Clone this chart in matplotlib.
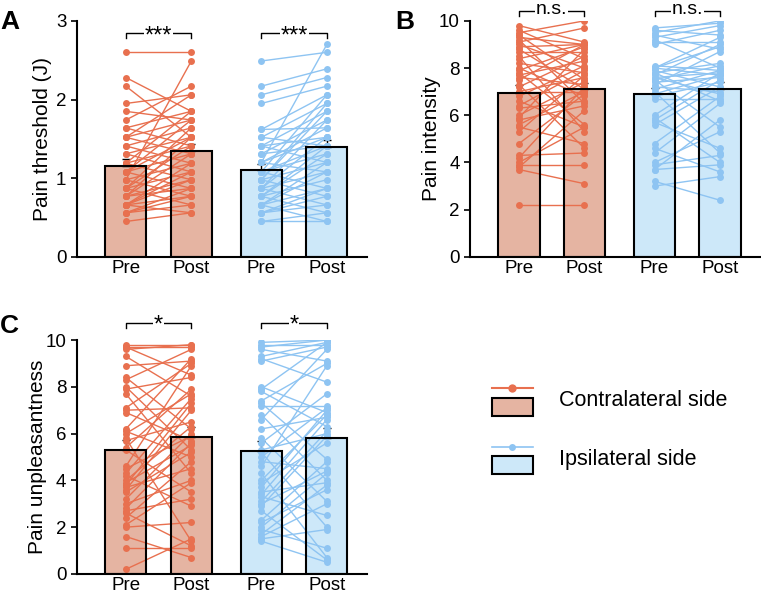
import numpy as np
import matplotlib.pyplot as plt
from matplotlib.patches import Rectangle
from matplotlib.lines import Line2D

plt.rcParams['font.family'] = ['Liberation Sans', 'DejaVu Sans']

# pain threshold (J), one entry per subject, pre/post
thr_con_pre = [2.60, 2.28, 2.17, 1.95, 1.85, 1.74, 1.64, 1.64, 1.52, 1.52, 1.52, 1.41, 1.41, 1.31, 1.31,
               1.19, 1.19, 1.19, 1.08, 1.08, 1.08, 1.08, 0.98, 0.98, 0.98, 0.87, 0.87, 0.87, 0.87, 0.77,
               0.77, 0.77, 0.77, 0.66, 0.66, 0.66, 0.66, 0.66, 0.56, 0.56, 0.56, 0.45]
thr_con_post = [2.60, 1.85, 1.52, 2.06, 1.74, 2.17, 1.85, 1.41, 2.06, 1.31, 1.74, 1.19, 1.64, 1.52, 1.08,
                1.85, 0.98, 1.41, 1.52, 0.87, 1.31, 1.74, 1.19, 2.49, 0.77, 1.64, 1.08, 1.41, 0.66, 1.31,
                0.98, 1.52, 0.87, 1.19, 0.56, 1.08, 0.77, 0.98, 0.87, 0.66, 0.77, 0.56]
thr_ips_pre = [2.49, 2.17, 2.06, 1.95, 1.62, 1.62, 1.52, 1.52, 1.41, 1.41, 1.41, 1.31, 1.31, 1.20, 1.20,
               1.20, 1.20, 1.08, 1.08, 1.08, 1.08, 0.98, 0.98, 0.98, 0.98, 0.87, 0.87, 0.87, 0.87, 0.77,
               0.77, 0.77, 0.77, 0.66, 0.66, 0.66, 0.66, 0.56, 0.56, 0.56, 0.45, 0.45]
thr_ips_post = [2.60, 2.39, 2.28, 2.17, 1.64, 2.06, 1.95, 1.41, 1.85, 1.52, 1.20, 1.74, 1.41, 2.70, 1.64,
                1.08, 1.52, 2.06, 1.31, 0.87, 1.41, 1.95, 1.20, 0.77, 1.85, 1.52, 1.08, 0.66, 1.74, 1.31,
                0.98, 1.41, 0.56, 1.20, 0.87, 1.08, 0.45, 0.87, 0.77, 0.66, 0.56, 0.45]

# pain intensity
int_con_pre = [9.8, 9.6, 9.5, 9.4, 9.3, 9.2, 9.1, 9.0, 8.9, 8.8, 8.7, 8.5, 8.4, 8.2, 8.0, 7.9, 7.8, 7.7,
               7.6, 7.5, 7.3, 7.2, 7.0, 7.0, 6.8, 6.6, 6.4, 6.3, 6.0, 5.9, 5.8, 5.6, 5.5, 5.3, 4.8, 4.3,
               4.2, 4.0, 3.9, 3.8, 3.7, 2.2]
int_con_post = [9.1, 8.4, 10.0, 7.5, 9.0, 6.5, 9.7, 8.0, 9.0, 7.1, 8.7, 5.3, 9.0, 7.8, 6.8, 8.9, 5.6, 8.3,
                7.3, 9.0, 4.6, 8.5, 7.6, 7.0, 8.1, 5.5, 7.9, 6.6, 7.4, 8.8, 6.4, 7.0, 4.8, 7.7, 6.9, 4.4,
                7.2, 5.5, 3.9, 6.2, 3.1, 2.2]
int_ips_pre = [9.7, 9.6, 9.5, 9.4, 9.3, 9.2, 9.1, 9.0, 8.1, 8.0, 8.0, 8.0, 7.9, 7.8, 7.8, 7.7, 7.6, 7.6,
               7.5, 7.5, 7.4, 7.3, 7.2, 7.1, 7.0, 6.9, 6.8, 6.7, 6.0, 5.9, 5.8, 5.7, 5.6, 4.8, 4.6, 4.4,
               4.0, 3.9, 3.7, 3.7, 3.2, 3.0]
int_ips_post = [9.9, 9.4, 10.0, 8.8, 9.8, 8.0, 9.1, 9.6, 7.9, 9.3, 7.7, 8.9, 7.2, 8.2, 6.6, 9.0, 7.8, 6.9,
                8.1, 5.5, 7.6, 8.7, 7.0, 7.9, 4.4, 7.7, 7.4, 6.7, 7.8, 4.0, 7.5, 4.6, 7.2, 6.8, 3.6, 6.5,
                5.3, 4.3, 5.8, 3.9, 2.4, 3.4]

# pain unpleasantness
unp_con_pre = [9.8, 9.7, 9.7, 9.6, 9.3, 8.9, 8.4, 8.3, 8.0, 7.9, 7.7, 7.1, 7.0, 6.9, 6.2, 6.1, 6.0, 5.8,
               5.7, 5.4, 5.3, 4.6, 4.5, 4.3, 4.2, 4.0, 3.9, 3.8, 3.7, 3.6, 3.5, 3.2, 3.0, 2.8, 2.7, 2.6,
               2.4, 2.1, 2.0, 1.6, 1.1, 0.2]
unp_con_post = [9.8, 9.7, 8.5, 9.8, 7.6, 9.1, 6.2, 9.6, 5.3, 8.4, 4.3, 9.0, 7.1, 5.7, 9.2, 5.0, 7.7, 1.4,
                6.5, 7.9, 3.5, 8.9, 5.9, 7.5, 2.9, 6.3, 5.5, 7.3, 4.5, 7.0, 5.2, 6.0, 4.0, 5.6, 3.2, 1.2,
                4.8, 3.9, 2.2, 0.7, 1.1, 1.5]
unp_ips_pre = [9.9, 9.8, 9.7, 9.6, 9.3, 9.2, 9.1, 8.0, 7.9, 7.8, 7.4, 7.3, 7.2, 6.8, 6.6, 6.2, 5.8, 5.6,
               5.3, 5.2, 5.0, 4.8, 4.6, 4.3, 4.0, 3.9, 3.7, 3.5, 3.4, 3.3, 3.1, 3.0, 2.9, 2.7, 2.3, 2.2,
               2.0, 1.9, 1.7, 1.6, 1.5, 1.4]
unp_ips_post = [10.0, 9.8, 10.0, 9.1, 9.9, 8.2, 9.7, 6.9, 9.9, 6.3, 9.0, 4.9, 7.2, 4.0, 9.6, 6.7, 3.1, 7.7,
                6.0, 2.0, 7.1, 4.5, 8.9, 0.7, 6.8, 5.6, 7.0, 3.9, 6.6, 2.5, 6.1, 4.4, 5.9, 0.6, 4.8, 3.6,
                4.3, 1.1, 3.8, 3.0, 1.9, 0.5]

xlabels = ['Pre', 'Post', 'Pre', 'Post']
sig_A = ['***', '***']
sig_B = ['n.s.', 'n.s.']
sig_C = ['*', '*']

con_line, con_fill = '#E8704F', '#E5B4A2'
ips_line, ips_fill = '#8EC4F2', '#CDE8F9'
pos = [1, 2, 3.07, 4.07]


def panel(ax, con_pre, con_post, ips_pre, ips_post, top, ticks, ylabel, lab_x,
          sig, sig_y, tick_h, sig_size, sig_dy):
    groups = [(con_pre, con_post, con_line, con_fill, pos[0:2], sig[0]),
              (ips_pre, ips_post, ips_line, ips_fill, pos[2:4], sig[1])]
    for pre, post, lc, fc, xx, s in groups:
        pre = np.array(pre)
        post = np.array(post)
        means = [pre.mean(), post.mean()]
        sems = [pre.std(ddof=1) / np.sqrt(len(pre)), post.std(ddof=1) / np.sqrt(len(post))]
        ax.bar(xx, means, width=0.63, color=fc, zorder=1)
        ax.errorbar(xx, means, yerr=[[0, 0], sems], fmt='none', ecolor='black',
                    elinewidth=1, capsize=3, capthick=1, zorder=1.5)
        for a, b in zip(pre, post):
            ax.plot(xx, [a, b], color=lc, lw=1, marker='o', ms=5, mec='none', zorder=2)
        ax.bar(xx, means, width=0.63, fill=False, edgecolor='black', lw=1.5, zorder=3)
        ax.plot([xx[0], xx[0], xx[1], xx[1]], [sig_y - tick_h, sig_y, sig_y, sig_y - tick_h],
                color='black', lw=1, clip_on=False, zorder=4)
        ax.text(np.mean(xx), sig_y + sig_dy, s, ha='center', va='center', fontsize=sig_size,
                zorder=5, clip_on=False,
                bbox=dict(facecolor='white', edgecolor='none', pad=0.5))
    ax.set_xlim(0.252, 4.68)
    ax.set_ylim(0, top)
    ax.set_yticks(ticks)
    ax.set_xticks(pos)
    ax.set_xticklabels(xlabels)
    ax.tick_params(axis='x', length=0, labelsize=13.5, pad=2.5)
    ax.tick_params(axis='y', length=4, width=1.2, labelsize=13.5, direction='out')
    ax.spines['top'].set_visible(False)
    ax.spines['right'].set_visible(False)
    ax.spines['left'].set_linewidth(1.5)
    ax.spines['bottom'].set_linewidth(1.5)
    ax.set_ylabel(ylabel, fontsize=15, va='center')
    ax.yaxis.set_label_coords(lab_x, 0.5)


fig = plt.figure(figsize=(7.61, 5.96), dpi=100)
axA = fig.add_axes([0.101, 0.569, 0.381, 0.396])
axB = fig.add_axes([0.6176, 0.569, 0.381, 0.396])
axC = fig.add_axes([0.101, 0.037, 0.381, 0.3925])

panel(axA, thr_con_pre, thr_con_post, thr_ips_pre, thr_ips_post, 3, [0, 1, 2, 3],
      'Pain threshold (J)', -0.117, sig_A, 2.84, 0.06, 17, -0.04)
panel(axB, int_con_pre, int_con_post, int_ips_pre, int_ips_post, 10, [0, 2, 4, 6, 8, 10],
      'Pain intensity', -0.134, sig_B, 10.42, 0.2, 14, 0.08)
panel(axC, unp_con_pre, unp_con_post, unp_ips_pre, unp_ips_post, 10, [0, 2, 4, 6, 8, 10],
      'Pain unpleasantness', -0.136, sig_C, 10.72, 0.2, 17, -0.12)

fig.text(0.0, 0.963, 'A', fontsize=19, fontweight='bold', va='center')
fig.text(0.52, 0.963, 'B', fontsize=19, fontweight='bold', va='center')
fig.text(0.0, 0.453, 'C', fontsize=19, fontweight='bold', va='center')

# legend drawn in pixel coordinates
lax = fig.add_axes([0, 0, 1, 1], facecolor='none')
lax.set_xlim(0, 761)
lax.set_ylim(596, 0)
lax.axis('off')
lax.add_line(Line2D([492, 533], [388, 388], color=con_line, lw=1.5))
lax.plot([512], [388], 'o', color=con_line, ms=6, mec='none')
lax.add_patch(Rectangle((492, 398), 41, 18, facecolor=con_fill, edgecolor='black', lw=1.5))
lax.text(559, 401, 'Contralateral side', fontsize=15.5, va='center')
lax.add_line(Line2D([492, 533], [447, 447], color=ips_line, lw=1.2))
lax.plot([512], [447], 'o', color=ips_line, ms=5, mec='none')
lax.add_patch(Rectangle((492, 456), 41, 18, facecolor=ips_fill, edgecolor='black', lw=1.5))
lax.text(559, 460, 'Ipsilateral side', fontsize=15.5, va='center')

fig.savefig('out.png', dpi=100)
